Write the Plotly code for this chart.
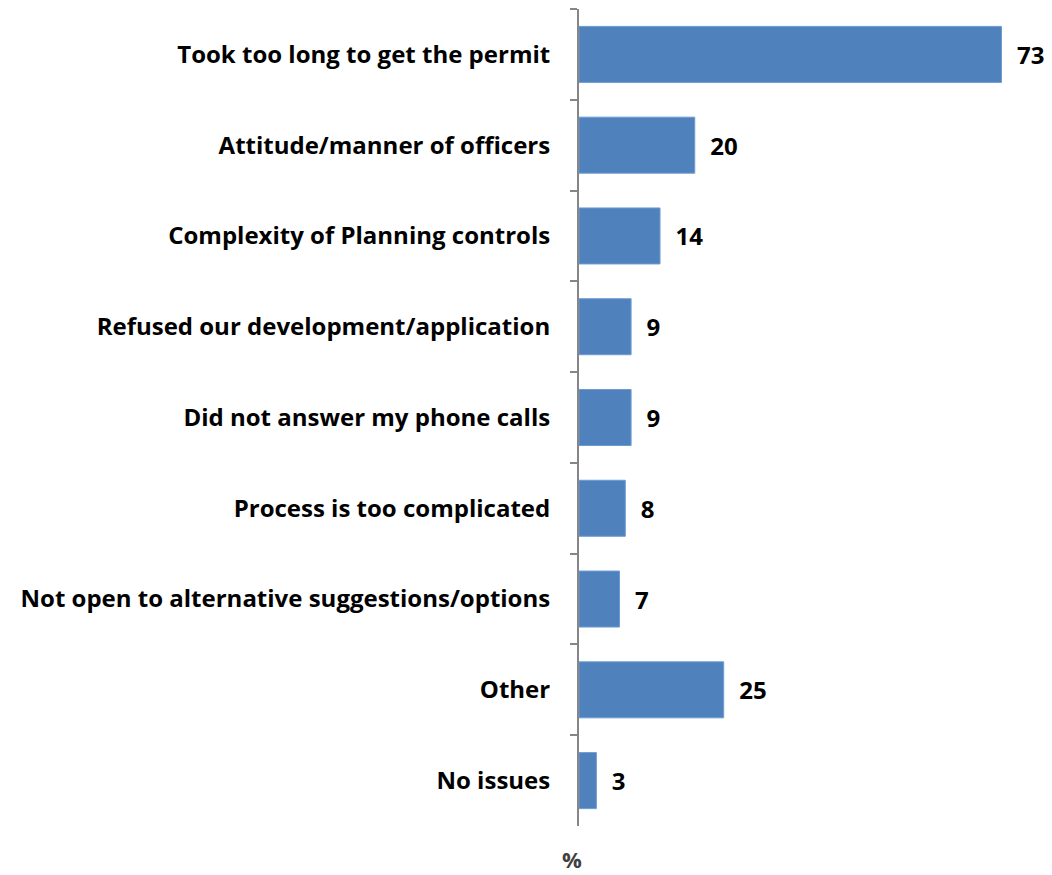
import plotly.graph_objects as go

categories = [
    "Took too long to get the permit",
    "Attitude/manner of officers",
    "Complexity of Planning controls",
    "Refused our development/application",
    "Did not answer my phone calls",
    "Process is too complicated",
    "Not open to alternative suggestions/options",
    "Other",
    "No issues",
]
values = [73, 20, 14, 9, 9, 8, 7, 25, 3]

FONT = "Open Sans"

fig = go.Figure()
fig.add_trace(go.Bar(
    x=values,
    y=categories,
    orientation="h",
    marker=dict(color="#4F81BD", line=dict(color="#6C9BD2", width=1)),
    text=values,
    texttemplate="  %{x}",
    textposition="outside",
    textfont=dict(family=FONT, size=24, color="#000000", weight="bold"),
    cliponaxis=False,
    hoverinfo="skip",
))

fig.update_layout(
    width=1052, height=875,
    margin=dict(l=579, r=10, t=9, b=49),
    plot_bgcolor="white", paper_bgcolor="white",
    bargap=0.383,
    showlegend=False,
    font=dict(family=FONT, size=22, color="#000000"),
)
fig.update_xaxes(
    range=[0, 80], showgrid=False, zeroline=False, showline=False,
    showticklabels=False, ticks="",
)
fig.update_yaxes(
    autorange="reversed", showgrid=False, showline=True,
    linecolor="#868686", linewidth=2,
    ticks="outside", tickson="boundaries", ticklen=7, tickcolor="#868686", tickwidth=2,
    tickfont=dict(family=FONT, size=24, color="#000000", weight="bold"),
    ticklabelstandoff=22,
)
fig.add_annotation(
    text="<b>%</b>", xref="paper", yref="paper", x=-0.015, y=-0.040,
    xanchor="center", yanchor="middle", showarrow=False,
    font=dict(family=FONT, size=22, color="#404040"),
)

fig.write_html(
    "out.html",
    config={"displayModeBar": False},
    post_script="document.body.style.margin='0';document.body.style.padding='0';document.body.style.overflow='hidden';",
)
